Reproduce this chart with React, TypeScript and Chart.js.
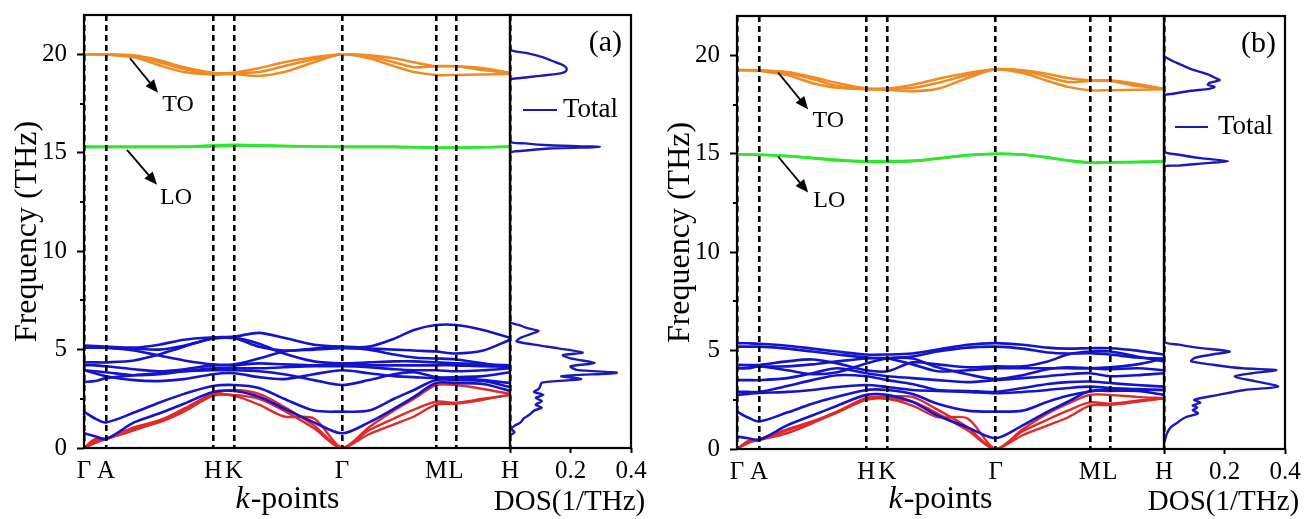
import React, { useEffect, useRef } from 'react';
import { Chart, registerables } from 'chart.js';

Chart.register(...registerables);

const SERIF = "'Liberation Serif', 'Times New Roman', Times, serif";
const PAGE_W = 1304;
const PAGE_H = 519;
const BAND_W = 560;
const DOS_W = 200;
const DOS_OFFSET = 40;

const BLUE = '#1414cc';
const RED = '#e02a2a';
const GREEN = '#2ee62e';
const ORANGE = '#f08a22';
const DOS_BLUE = '#1a1ab4';

// k-path sample positions (path length) and high-symmetry points
const kPath = [0, 11, 22, 50, 75, 100, 129, 150, 175, 200, 230, 258, 285, 310, 330, 352, 372, 399, 426];
const kSymPos = [0, 22, 129, 150, 258, 352, 372, 426];
const kSymLabels = ['Γ', 'A', 'H', 'K', 'Γ', 'M', 'L', 'H'];
const freqMajorTicks = [0, 5, 10, 15, 20];
const freqMinorTicks = [2.5, 7.5, 12.5, 17.5];
const dosTicks = [0, 0.2, 0.4];
const dosTickLabels = ['', '0.2', '0.4'];

// ---------- panel (a) ----------
const aAcoustic = [
  [0, 0.35, 0.45, 1.0, 1.3, 1.85, 2.65, 2.65, 2.2, 1.6, 1.5, 0, 0.7, 1.2, 1.6, 2.2, 2.25, 2.45, 2.7],
  [0, 0.45, 0.5, 1.05, 1.4, 1.95, 2.7, 2.7, 2.5, 1.9, 1.0, 0, 0.9, 1.5, 1.95, 2.35, 2.3, 2.5, 2.7],
  [0, 0.25, 0.45, 0.9, 1.35, 2.0, 2.75, 2.95, 2.75, 2.1, 1.15, 0, 1.05, 1.9, 2.5, 3.2, 3.2, 3.0, 2.75],
];
const aOpticalLow = [
  [5.2, 5.18, 5.15, 5.1, 5.25, 5.5, 5.62, 5.66, 5.85, 5.6, 5.25, 5.15, 5.15, 5.55, 6.0, 6.25, 6.25, 6.0, 5.6],
  [5.1, 5.1, 5.1, 5.05, 5.0, 5.2, 5.55, 5.58, 5.15, 4.95, 5.0, 5.07, 5.05, 5.0, 4.95, 4.9, 4.8, 4.95, 5.5],
  [4.35, 4.35, 4.35, 4.45, 4.75, 5.15, 5.58, 5.6, 5.3, 4.8, 4.4, 4.3, 4.35, 4.4, 4.4, 4.35, 4.3, 4.25, 4.2],
  [4.2, 4.2, 4.15, 4.0, 3.9, 4.0, 4.2, 4.2, 4.3, 4.25, 4.2, 4.2, 4.2, 4.2, 4.2, 4.2, 4.2, 4.15, 4.15],
  [3.95, 3.9, 3.85, 3.7, 3.75, 3.9, 4.05, 4.05, 4.05, 4.1, 4.15, 4.15, 4.1, 4.0, 3.95, 3.95, 3.9, 3.95, 4.05],
  [3.35, 3.4, 3.55, 3.7, 3.8, 3.9, 3.95, 3.95, 3.9, 3.75, 3.45, 3.2, 3.45, 3.75, 3.85, 3.6, 3.55, 3.45, 3.3],
  [1.85, 1.5, 1.3, 1.8, 2.3, 2.75, 3.15, 3.2, 3.05, 2.5, 1.9, 1.85, 1.9, 2.5, 2.95, 3.45, 3.45, 3.4, 3.1],
  [0.75, 0.6, 0.45, 1.3, 1.75, 2.25, 2.85, 2.9, 2.6, 2.0, 1.3, 0.75, 1.3, 2.0, 2.6, 3.3, 3.3, 3.25, 2.9],
  [3.95, 3.8, 3.65, 3.45, 3.4, 3.5, 3.75, 3.8, 3.6, 3.5, 3.75, 3.95, 3.8, 3.65, 3.6, 3.55, 3.6, 3.65, 3.85],
  [5.1, 5.1, 5.1, 4.95, 4.7, 4.45, 4.25, 4.25, 4.55, 4.9, 5.05, 5.1, 5.0, 4.75, 4.6, 4.55, 4.5, 4.3, 4.05],
];
const aLO = [
  [15.3, 15.3, 15.3, 15.3, 15.3, 15.3, 15.32, 15.35, 15.35, 15.33, 15.32, 15.3, 15.3, 15.3, 15.28, 15.25, 15.25, 15.28, 15.3],
  [15.3, 15.3, 15.3, 15.3, 15.3, 15.31, 15.38, 15.4, 15.38, 15.35, 15.32, 15.3, 15.3, 15.3, 15.28, 15.27, 15.27, 15.28, 15.32],
];
const aTO = [
  [20.0, 20.0, 20.0, 19.95, 19.7, 19.35, 19.07, 19.07, 19.3, 19.6, 19.85, 20.0, 19.95, 19.8, 19.6, 19.4, 19.4, 19.3, 19.07],
  [20.0, 20.0, 19.98, 19.85, 19.45, 19.1, 18.98, 19.0, 18.9, 19.1, 19.6, 20.0, 19.8, 19.4, 19.1, 18.95, 18.95, 18.98, 19.0],
  [20.0, 20.0, 20.0, 19.9, 19.6, 19.25, 19.0, 19.05, 19.1, 19.4, 19.75, 20.0, 19.9, 19.6, 19.35, 19.4, 19.4, 19.2, 19.05],
];
const aDosFreq = [
  20.4, 20.2, 20.05, 19.85, 19.6, 19.45, 19.3, 19.15, 19.05, 18.92, 18.8, 18.68,
  15.6, 15.48, 15.38, 15.3, 15.22, 15.1, 14.95,
  6.42, 6.25, 6.1, 5.95, 5.8, 5.6, 5.42, 5.25, 5.06, 4.85, 4.72, 4.55, 4.32, 4.15, 3.97, 3.82, 3.65, 3.5,
  3.32, 3.15, 3.0, 2.85, 2.7, 2.55, 2.38, 2.2, 2.05, 1.9, 1.7, 1.5, 1.3, 1.1, 0.95, 0.8, 0.65,
];
const aDosValue = [
  0, 0.005, 0.06, 0.11, 0.15, 0.176, 0.187, 0.185, 0.17, 0.105, 0.035, 0,
  0, 0.05, 0.13, 0.298, 0.13, 0.045, 0,
  0, 0.03, 0.055, 0.094, 0.07, 0.035, 0.022, 0.08, 0.16, 0.24, 0.175, 0.2, 0.28, 0.2, 0.22, 0.353, 0.17, 0.235,
  0.105, 0.1, 0.095, 0.08, 0.11, 0.085, 0.105, 0.085, 0.105, 0.08, 0.065, 0.045, 0.035, 0.012, 0.005, 0.015, 0,
];

// ---------- panel (b) ----------
const bAcoustic = [
  [0, 0.35, 0.46, 0.95, 1.35, 1.85, 2.5, 2.55, 2.2, 1.62, 1.55, 0, 0.7, 1.2, 1.6, 2.2, 2.24, 2.4, 2.58],
  [0, 0.4, 0.5, 1.0, 1.4, 1.9, 2.55, 2.58, 2.4, 1.8, 0.95, 0, 0.9, 1.5, 1.95, 2.37, 2.3, 2.45, 2.58],
  [0, 0.3, 0.46, 0.8, 1.3, 1.9, 2.6, 2.65, 2.65, 2.0, 1.1, 0, 1.0, 1.8, 2.3, 2.75, 2.75, 2.65, 2.58],
];
const bOpticalLow = [
  [5.38, 5.37, 5.35, 5.25, 5.1, 4.95, 4.8, 4.8, 4.85, 5.05, 5.3, 5.38, 5.3, 5.15, 5.1, 5.12, 5.12, 5.0, 4.8],
  [5.2, 5.2, 5.2, 5.1, 4.95, 4.8, 4.65, 4.62, 4.7, 4.95, 5.15, 5.2, 5.1, 4.9, 4.85, 4.87, 4.8, 4.65, 4.6],
  [4.27, 4.27, 4.27, 4.45, 4.55, 4.35, 4.0, 3.95, 4.4, 4.3, 4.15, 4.2, 4.2, 4.45, 4.8, 4.95, 4.95, 4.7, 4.45],
  [4.1, 4.1, 4.2, 4.0, 3.8, 3.9, 4.35, 4.6, 4.6, 4.15, 3.8, 3.55, 3.75, 4.05, 4.15, 4.1, 4.05, 4.1, 4.0],
  [3.5, 3.5, 3.5, 3.6, 3.85, 4.1, 3.85, 3.7, 3.6, 3.5, 3.4, 3.5, 3.6, 3.7, 3.8, 3.85, 3.7, 3.75, 3.85],
  [2.9, 2.9, 2.9, 3.2, 3.5, 3.75, 3.7, 3.5, 3.3, 3.0, 2.95, 2.9, 3.1, 3.3, 3.4, 3.43, 3.35, 3.25, 3.17],
  [2.75, 2.8, 2.85, 2.9, 3.0, 3.15, 3.25, 3.15, 3.0, 2.95, 2.9, 2.83, 2.9, 3.0, 3.1, 3.17, 3.1, 3.05, 3.0],
  [1.9, 1.6, 1.4, 1.85, 2.3, 2.65, 3.0, 3.0, 2.8, 2.3, 1.95, 1.9, 1.95, 2.4, 2.7, 2.92, 3.0, 3.0, 3.0],
  [0.63, 0.55, 0.46, 1.2, 1.7, 2.2, 2.75, 2.75, 2.4, 1.7, 1.1, 0.55, 1.2, 1.9, 2.4, 2.95, 2.95, 2.95, 2.75],
  [4.27, 4.25, 4.2, 4.2, 4.3, 4.45, 4.6, 4.6, 4.3, 3.95, 4.0, 4.1, 4.1, 4.1, 4.1, 4.1, 4.15, 4.3, 4.6],
];
const bLO = [
  [14.96, 14.96, 14.95, 14.88, 14.78, 14.66, 14.59, 14.59, 14.62, 14.75, 14.92, 15.0, 14.95, 14.8, 14.65, 14.54, 14.55, 14.57, 14.6],
  [14.96, 14.96, 14.95, 14.89, 14.8, 14.69, 14.62, 14.63, 14.65, 14.77, 14.93, 15.0, 14.96, 14.82, 14.67, 14.57, 14.57, 14.59, 14.62],
];
const bTO = [
  [19.25, 19.25, 19.25, 19.15, 18.9, 18.6, 18.32, 18.32, 18.5, 18.8, 19.1, 19.3, 19.25, 19.05, 18.85, 18.73, 18.73, 18.55, 18.3],
  [19.25, 19.25, 19.22, 19.0, 18.6, 18.35, 18.28, 18.25, 18.18, 18.3, 18.85, 19.28, 19.1, 18.7, 18.4, 18.23, 18.23, 18.25, 18.28],
  [19.25, 19.25, 19.24, 19.1, 18.8, 18.45, 18.3, 18.3, 18.35, 18.6, 19.0, 19.3, 19.2, 18.9, 18.65, 18.7, 18.7, 18.45, 18.3],
];
const bDosFreq = [
  19.95, 19.7, 19.5, 19.3, 19.03, 18.85, 18.74, 18.6, 18.5, 18.4, 18.3, 18.2, 18.05, 17.93,
  15.15, 14.95, 14.78, 14.62, 14.5, 14.4, 14.28,
  5.5, 5.3, 5.15, 4.95, 4.8, 4.62, 4.45, 4.27, 4.1, 4.01, 3.85, 3.68, 3.45, 3.17, 3.0, 2.75, 2.5,
  2.35, 2.22, 2.1, 1.98, 1.81, 1.6, 1.35, 1.1, 0.8, 0.5, 0.3,
];
const bDosValue = [
  0, 0.03, 0.06, 0.09, 0.145, 0.17, 0.184, 0.15, 0.145, 0.167, 0.15, 0.09, 0.03, 0,
  0, 0.05, 0.12, 0.212, 0.12, 0.05, 0,
  0, 0.05, 0.11, 0.217, 0.16, 0.1, 0.09, 0.167, 0.26, 0.371, 0.29, 0.234, 0.3, 0.377, 0.267, 0.18, 0.1,
  0.12, 0.095, 0.11, 0.095, 0.112, 0.07, 0.045, 0.022, 0.01, 0.004, 0,
];

type Panel = {
  label: string;
  acoustic: number[][];
  low: number[][];
  lo: number[][];
  to: number[][];
  dosF: number[];
  dosV: number[];
  canvasLeft: number;
  areaLeft: number;
  top: number;
  bottom: number;
  divider: number;
  dosRight: number;
  legendY: number;
  legendLine: [number, number];
  legendText: number;
  toArrow: [number, number, number, number];
  toText: [number, number];
  loArrow: [number, number, number, number];
  loText: [number, number];
};

const PANEL_A: Panel = {
  label: '(a)', acoustic: aAcoustic, low: aOpticalLow, lo: aLO, to: aTO, dosF: aDosFreq, dosV: aDosValue,
  canvasLeft: 0, areaLeft: 84, top: 15, bottom: 448, divider: 510, dosRight: 631,
  legendY: 110, legendLine: [13, 47], legendText: 53,
  toArrow: [46, 19.8, 74, 18.05], toText: [94, 17.45],
  loArrow: [43, 15.15, 73, 13.37], loText: [92, 12.7],
};
const PANEL_B: Panel = {
  label: '(b)', acoustic: bAcoustic, low: bOpticalLow, lo: bLO, to: bTO, dosF: bDosFreq, dosV: bDosValue,
  canvasLeft: 653, areaLeft: 737, top: 16, bottom: 449, divider: 1164, dosRight: 1285,
  legendY: 127, legendLine: [11, 44], legendText: 54,
  toArrow: [41, 19.13, 71, 17.25], toText: [91, 16.7],
  loArrow: [41, 14.86, 71, 13.03], loText: [92, 12.6],
};

function drawArrow(ctx: CanvasRenderingContext2D, x1: number, y1: number, x2: number, y2: number) {
  const ang = Math.atan2(y2 - y1, x2 - x1);
  const L = 13;
  const W = 5.5;
  ctx.beginPath();
  ctx.moveTo(x1, y1);
  ctx.lineTo(x2 - L * 0.6 * Math.cos(ang), y2 - L * 0.6 * Math.sin(ang));
  ctx.lineWidth = 1.8;
  ctx.stroke();
  ctx.beginPath();
  ctx.moveTo(x2, y2);
  ctx.lineTo(x2 - L * Math.cos(ang) + W * Math.sin(ang), y2 - L * Math.sin(ang) - W * Math.cos(ang));
  ctx.lineTo(x2 - L * Math.cos(ang) - W * Math.sin(ang), y2 - L * Math.sin(ang) + W * Math.cos(ang));
  ctx.closePath();
  ctx.fill();
}

function makeBandChart(canvas: HTMLCanvasElement, p: Panel) {
  const datasets: any[] = [];
  const add = (bands: number[][], color: string, width: number) => {
    for (const b of bands) {
      datasets.push({
        data: b.map((f, i) => ({ x: kPath[i], y: f })),
        borderColor: color,
        backgroundColor: color,
        borderWidth: width,
        pointRadius: 0,
        tension: 0.3,
        fill: false,
      });
    }
  };
  add(p.low, BLUE, 2.6);
  add(p.acoustic, RED, 2.4);
  add(p.lo, GREEN, 2.6);
  add(p.to, ORANGE, 2.5);

  const decor = {
    id: 'bandDecor',
    afterDraw(chart: any) {
      const { ctx, chartArea: a, scales } = chart;
      const xs = scales.x;
      const ys = scales.y;
      ctx.save();
      ctx.strokeStyle = '#000';
      ctx.fillStyle = '#000';
      ctx.lineWidth = 2;
      for (const v of freqMinorTicks) {
        const py = Math.round(ys.getPixelForValue(v));
        ctx.beginPath();
        ctx.moveTo(a.left - 4, py);
        ctx.lineTo(a.left, py);
        ctx.stroke();
      }
      ctx.lineWidth = 2.2;
      ctx.strokeRect(a.left, a.top, a.right - a.left, a.bottom - a.top);
      const arrows = [[p.toArrow, p.toText, 'TO'], [p.loArrow, p.loText, 'LO']] as const;
      for (const [ar, tx, txt] of arrows) {
        drawArrow(ctx, xs.getPixelForValue(ar[0]), ys.getPixelForValue(ar[1]), xs.getPixelForValue(ar[2]), ys.getPixelForValue(ar[3]));
        ctx.font = `24px ${SERIF}`;
        ctx.textAlign = 'center';
        ctx.textBaseline = 'middle';
        ctx.fillText(txt, xs.getPixelForValue(tx[0]), ys.getPixelForValue(tx[1]));
      }
      // k-points axis title (italic k)
      const cx = a.left + 203;
      const cy = 500;
      ctx.textBaseline = 'middle';
      ctx.textAlign = 'left';
      ctx.font = `italic 32px ${SERIF}`;
      const wk = ctx.measureText('k').width;
      ctx.font = `32px ${SERIF}`;
      const wr = ctx.measureText('-points').width;
      const x0 = cx - (wk + wr) / 2;
      ctx.font = `italic 32px ${SERIF}`;
      ctx.fillText('k', x0, cy);
      ctx.font = `32px ${SERIF}`;
      ctx.fillText('-points', x0 + wk + 1, cy);
      ctx.restore();
    },
  };

  return new Chart(canvas, {
    type: 'line',
    data: { datasets },
    plugins: [decor],
    options: {
      animation: false,
      responsive: false,
      events: [],
      layout: { padding: { left: 0, top: p.top, right: BAND_W - (p.divider - p.canvasLeft), bottom: 0 } },
      plugins: { legend: { display: false }, tooltip: { enabled: false } },
      scales: {
        x: {
          type: 'linear',
          min: 0,
          max: kSymPos[kSymPos.length - 1],
          afterBuildTicks: (s: any) => { s.ticks = kSymPos.map((v) => ({ value: v })); },
          afterFit: (s: any) => { s.height = PAGE_H - p.bottom; s.paddingLeft = 0; s.paddingRight = 0; },
          ticks: {
            autoSkip: false, maxRotation: 0, minRotation: 0, padding: 8, color: '#000',
            font: { family: SERIF, size: 25 },
            callback: (_v: any, i: number) => kSymLabels[i],
          },
          grid: { display: true, drawOnChartArea: true, drawTicks: false, color: '#000', lineWidth: 2.6, z: 1 },
          border: { display: false, dash: [6, 4] },
        },
        y: {
          type: 'linear',
          min: 0,
          max: 22,
          afterBuildTicks: (s: any) => { s.ticks = freqMajorTicks.map((v) => ({ value: v })); },
          afterFit: (s: any) => { s.width = p.areaLeft - p.canvasLeft; s.paddingTop = 0; s.paddingBottom = 0; },
          ticks: { padding: 10, color: '#000', font: { family: SERIF, size: 25 } },
          grid: { display: true, drawOnChartArea: false, drawTicks: true, tickLength: 7, tickWidth: 2, tickColor: '#000' },
          border: { display: false },
          title: {
            display: true, text: 'Frequency (THz)', color: '#000',
            font: { family: SERIF, size: 32 }, padding: { top: 8, bottom: 0 },
          },
        },
      },
    } as any,
  });
}

function makeDosChart(canvas: HTMLCanvasElement, p: Panel) {
  const dosLeft = p.divider - DOS_OFFSET;
  const decor = {
    id: 'dosDecor',
    afterDraw(chart: any) {
      const { ctx, chartArea: a } = chart;
      ctx.save();
      ctx.strokeStyle = '#000';
      ctx.lineWidth = 2.2;
      ctx.strokeRect(a.left, a.top, a.right - a.left, a.bottom - a.top);
      const ly = p.legendY;
      ctx.strokeStyle = DOS_BLUE;
      ctx.lineWidth = 2.2;
      ctx.beginPath();
      ctx.moveTo(a.left + p.legendLine[0], ly);
      ctx.lineTo(a.left + p.legendLine[1], ly);
      ctx.stroke();
      ctx.fillStyle = '#000';
      ctx.font = `27px ${SERIF}`;
      ctx.textBaseline = 'middle';
      ctx.textAlign = 'left';
      ctx.fillText('Total', a.left + p.legendText, ly);
      ctx.font = `30px ${SERIF}`;
      ctx.textAlign = 'right';
      ctx.fillText(p.label, a.right - 9, a.top + 28);
      // x-axis title drawn without width compression
      ctx.textAlign = 'center';
      ctx.font = `29px ${SERIF}`;
      ctx.fillText('DOS(1/THz)', (a.left + a.right) / 2 - 1, 502);
      ctx.restore();
    },
  };
  return new Chart(canvas, {
    type: 'line',
    data: {
      datasets: [{
        data: p.dosV.map((v, i) => ({ x: v, y: p.dosF[i] })),
        borderColor: DOS_BLUE,
        backgroundColor: DOS_BLUE,
        borderWidth: 2.4,
        pointRadius: 0,
        tension: 0.25,
        fill: false,
      }],
    },
    plugins: [decor],
    options: {
      animation: false,
      responsive: false,
      events: [],
      layout: { padding: { left: DOS_OFFSET, top: p.top, right: DOS_W - (p.dosRight - dosLeft), bottom: 0 } },
      plugins: { legend: { display: false }, tooltip: { enabled: false } },
      scales: {
        x: {
          type: 'linear',
          min: 0,
          max: 0.4,
          afterBuildTicks: (s: any) => { s.ticks = dosTicks.map((v) => ({ value: v })); },
          afterFit: (s: any) => { s.height = PAGE_H - p.bottom; s.paddingLeft = 0; s.paddingRight = 0; },
          ticks: {
            autoSkip: false, maxRotation: 0, minRotation: 0, padding: 3, color: '#000',
            font: { family: SERIF, size: 25 },
            callback: (_v: any, i: number) => dosTickLabels[i],
          },
          grid: { display: true, drawOnChartArea: false, drawTicks: true, tickLength: 5, tickWidth: 2, tickColor: '#000' },
          border: { display: false },
        },
        y: { type: 'linear', display: false, min: 0, max: 22 },
      },
    } as any,
  });
}

export default function App() {
  const aBand = useRef<HTMLCanvasElement>(null);
  const aDos = useRef<HTMLCanvasElement>(null);
  const bBand = useRef<HTMLCanvasElement>(null);
  const bDos = useRef<HTMLCanvasElement>(null);

  useEffect(() => {
    const charts = [
      makeBandChart(aBand.current!, PANEL_A),
      makeDosChart(aDos.current!, PANEL_A),
      makeBandChart(bBand.current!, PANEL_B),
      makeDosChart(bDos.current!, PANEL_B),
    ];
    return () => charts.forEach((c) => c.destroy());
  }, []);

  const cs = (left: number, w: number): React.CSSProperties => ({
    position: 'absolute', left, top: 0, width: w, height: PAGE_H,
  });

  return (
    <div style={{ position: 'fixed', left: 0, top: 0, width: PAGE_W, height: PAGE_H, overflow: 'hidden', background: '#fff' }}>
      <canvas ref={aBand} width={BAND_W} height={PAGE_H} style={cs(PANEL_A.canvasLeft, BAND_W)} />
      <canvas ref={aDos} width={DOS_W} height={PAGE_H} style={cs(PANEL_A.divider - DOS_OFFSET, DOS_W)} />
      <canvas ref={bBand} width={BAND_W} height={PAGE_H} style={cs(PANEL_B.canvasLeft, BAND_W)} />
      <canvas ref={bDos} width={DOS_W} height={PAGE_H} style={cs(PANEL_B.divider - DOS_OFFSET, DOS_W)} />
    </div>
  );
}
